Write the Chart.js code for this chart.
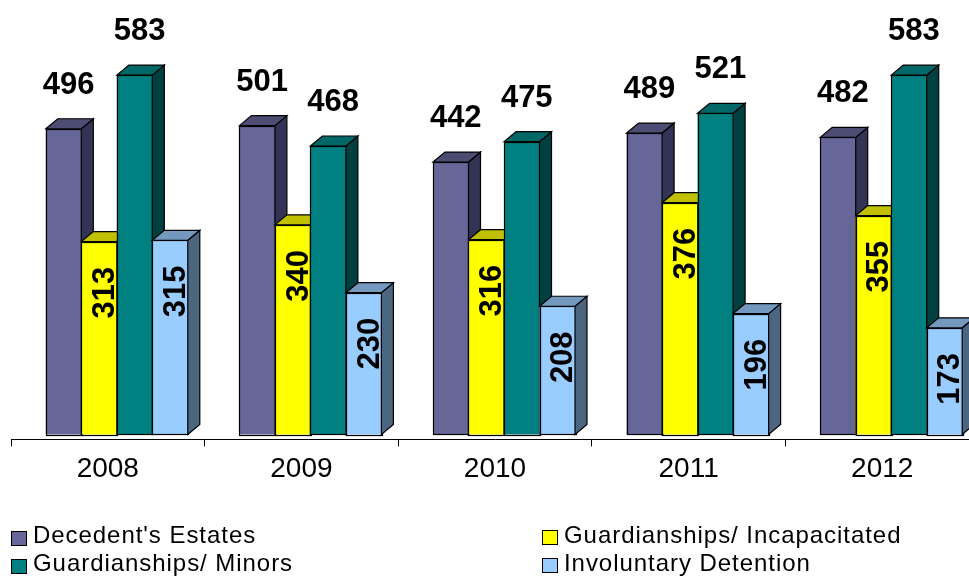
<!DOCTYPE html>
<html>
<head>
<meta charset="utf-8">
<script src="https://cdn.jsdelivr.net/npm/chart.js@4.4.0/dist/chart.umd.min.js"></script>
<style>
html,body{margin:0;padding:0;background:#fff;overflow:hidden;width:969px;height:579px;}
#wrap{position:relative;width:969px;height:579px;overflow:hidden;}
#c{position:absolute;left:0;top:0;}
.lg{position:absolute;font-family:Arial,"Liberation Sans",sans-serif;font-size:24px;line-height:28px;letter-spacing:0.95px;color:#000;white-space:nowrap;}
.bx{position:absolute;width:14px;height:13px;border:1px solid #000;}
</style>
</head>
<body>
<div id="wrap">
<canvas id="c" width="990" height="579"></canvas>
<div id="legend"></div>
</div>
<script>
// ---- data ----
const categories = ['2008', '2009', '2010', '2011', '2012'];
const seriesNames = ["Decedent's Estates", 'Guardianships/ Incapacitated', 'Guardianships/ Minors', 'Involuntary Detention'];
const decedentEstates = [496, 501, 442, 489, 482];
const guardIncapacitated = [313, 340, 316, 376, 355];
const guardMinors = [583, 468, 475, 521, 583];
const involuntaryDetention = [315, 230, 208, 196, 173];

// ---- styles ----
const frontColors = ['#666699', '#FFFF00', '#008080', '#99CCFF'];
const topColors   = ['#4D4D73', '#C0C000', '#006666', '#7399BF'];
const sideColors  = ['#333355', '#808000', '#004040', '#4D6680'];
const labelModes  = ['above', 'inside', 'above', 'inside'];
const seriesData = [decedentEstates, guardIncapacitated, guardMinors, involuntaryDetention];

const DX = 12, DY = 10, SHIFT = 9;
const FONT = 'Arial, "Liberation Sans", sans-serif';

const bars3d = {
  id: 'bars3d',
  beforeDatasetsDraw(chart) {
    const ctx = chart.ctx;
    ctx.save();
    ctx.translate(SHIFT, 0);
    ctx.lineWidth = 1.2;
    ctx.strokeStyle = '#000';
    ctx.lineJoin = 'miter';
    chart.data.datasets.forEach((ds, di) => {
      const meta = chart.getDatasetMeta(di);
      meta.data.forEach(el => {
        const p = el.getProps(['x', 'y', 'base', 'width'], true);
        const l = p.x - p.width / 2, r = p.x + p.width / 2;
        // front
        ctx.fillStyle = frontColors[di];
        ctx.fillRect(l, p.y, p.width, p.base - p.y);
        ctx.strokeRect(Math.round(l) + 0.5, Math.round(p.y) + 0.5, Math.round(p.width), Math.round(p.base - p.y));
        // side
        ctx.beginPath();
        ctx.moveTo(r, p.y);
        ctx.lineTo(r + DX, p.y - DY);
        ctx.lineTo(r + DX, p.base - DY);
        ctx.lineTo(r, p.base);
        ctx.closePath();
        ctx.fillStyle = sideColors[di];
        ctx.fill();
        ctx.stroke();
        // top
        ctx.beginPath();
        ctx.moveTo(l, p.y);
        ctx.lineTo(l + DX, p.y - DY);
        ctx.lineTo(r + DX, p.y - DY);
        ctx.lineTo(r, p.y);
        ctx.closePath();
        ctx.fillStyle = topColors[di];
        ctx.fill();
        ctx.stroke();
      });
    });
    // labels
    ctx.fillStyle = '#000';
    ctx.font = 'bold 31px ' + FONT;
    ctx.textAlign = 'center';
    ctx.textBaseline = 'alphabetic';
    chart.data.datasets.forEach((ds, di) => {
      const meta = chart.getDatasetMeta(di);
      meta.data.forEach((el, i) => {
        const p = el.getProps(['x', 'y', 'base', 'width'], true);
        const txt = String(ds.data[i]);
        if (labelModes[di] === 'above') {
          ctx.fillText(txt, p.x + 5, p.y - 46 + 11);
        } else {
          ctx.save();
          ctx.translate(p.x + 4, p.y + 51);
          ctx.rotate(-Math.PI / 2);
          ctx.fillText(txt, 0, 11);
          ctx.restore();
        }
      });
    });
    ctx.restore();
    return false;
  }
};

new Chart(document.getElementById('c').getContext('2d'), {
  type: 'bar',
  data: {
    labels: categories,
    datasets: seriesNames.map((name, i) => ({
      label: name,
      data: seriesData[i],
      backgroundColor: frontColors[i],
      borderColor: '#000',
      borderWidth: 1
    }))
  },
  options: {
    responsive: false,
    animation: false,
    devicePixelRatio: 1,
    layout: { padding: { left: 11, right: 11, top: 3, bottom: 87 } },
    plugins: { legend: { display: false }, tooltip: { enabled: false } },
    datasets: { bar: { categoryPercentage: 0.7335, barPercentage: 1 } },
    scales: {
      x: {
        grid: { display: true, drawOnChartArea: false, drawTicks: true, tickLength: 7, color: '#000', lineWidth: 1, offset: true },
        border: { display: true, color: '#000', width: 1 },
        ticks: { font: { family: FONT, size: 28 }, color: '#000', padding: 6, maxRotation: 0, autoSkip: false }
      },
      y: { display: false, min: -8, max: 700 }
    }
  },
  plugins: [bars3d]
});

// ---- legend (2 x 2 grid) ----
const legendPos = [
  { bx: 11, by: 531, tx: 33, ty: 521 },
  { bx: 542, by: 530, tx: 564, ty: 521 },
  { bx: 11, by: 559, tx: 33, ty: 549 },
  { bx: 542, by: 558, tx: 564, ty: 549 }
];
const legend = document.getElementById('legend');
seriesNames.forEach((name, i) => {
  const pos = legendPos[i];
  const b = document.createElement('div');
  b.className = 'bx';
  b.style.left = pos.bx + 'px';
  b.style.top = pos.by + 'px';
  b.style.background = frontColors[i];
  legend.appendChild(b);
  const t = document.createElement('div');
  t.className = 'lg';
  t.style.left = pos.tx + 'px';
  t.style.top = pos.ty + 'px';
  t.textContent = name;
  legend.appendChild(t);
});
</script>
</body>
</html>
